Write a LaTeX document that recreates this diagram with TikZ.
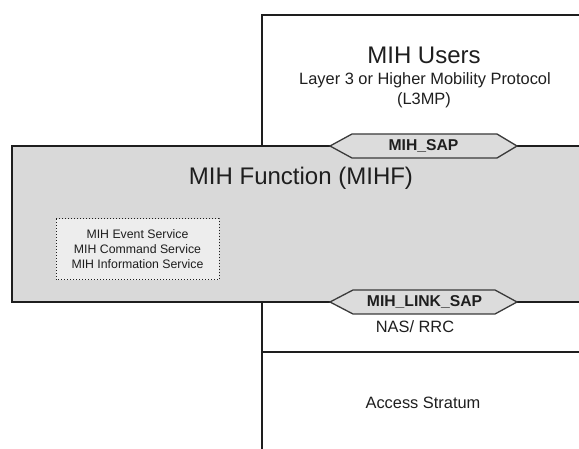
\documentclass[tikz,border=0pt]{standalone}
\usepackage{fontspec}
\setmainfont{Liberation Sans}
\definecolor{mihgray}{HTML}{D9D9D9}
\definecolor{hexgray}{HTML}{DCDCDC}
\definecolor{boxfill}{HTML}{EDEDED}
\definecolor{ink}{HTML}{1E1E1E}
\definecolor{hexline}{HTML}{3A3A3A}
\begin{document}
\begin{tikzpicture}[x=1pt,y=-1pt,
  frame/.style={draw=ink,line width=1.8pt},
  hexshape/.style={draw=hexline,fill=hexgray,line width=1.3pt,line join=miter},
  txt/.style={inner sep=0pt,text=ink,align=center},
  big/.style={txt,font=\fontsize{24}{28}\selectfont},
  mid/.style={txt,font=\fontsize{16.4}{19}\selectfont},
  saplabel/.style={txt,font=\fontsize{15.7}{18}\selectfont\bfseries},
  small/.style={txt,font=\fontsize{12.3}{15}\selectfont}]
\useasboundingbox (0,0) rectangle (579,449);
% MIH Users / lower stack frame
\draw[frame] (579,15) -- (262,15) -- (262,449);
\draw[frame] (262,352) -- (579,352);
% MIHF box
\fill[mihgray] (12,146) rectangle (585,302);
\draw[frame] (585,146) -- (12,146) -- (12,302) -- (585,302);
% SAP hexagons
\draw[hexshape] (330,146) -- (352,134) -- (497,134) -- (517,146) -- (497,158) -- (352,158) -- cycle;
\node[saplabel] (sap) at (423.5,146) {MIH\_SAP};
\draw[hexshape] (330,302) -- (353,290) -- (495,290) -- (517,302) -- (495,314) -- (353,314) -- cycle;
\node[saplabel] (linksap) at (424.5,302) {MIH\_LINK\_SAP};
% Texts
\node[big] (users) at (424,55) {MIH Users};
\node[mid] (l3) at (425,80) {Layer 3 or Higher Mobility Protocol};
\node[mid] (l3mp) at (424,100) {(L3MP)};
\node[big] (mihf) at (301,178) {MIH Function (MIHF)};
\node[mid] (nas) at (415,327) {NAS/ RRC};
\node[mid] (as) at (423,403) {Access Stratum};
% services box
\draw[draw=ink,fill=boxfill,line width=1pt,dotted] (56,219) rectangle (219,280);
\node[small] (services) at (137.5,249) {MIH Event Service\\MIH Command Service\\MIH Information Service};
\end{tikzpicture}
\end{document}
